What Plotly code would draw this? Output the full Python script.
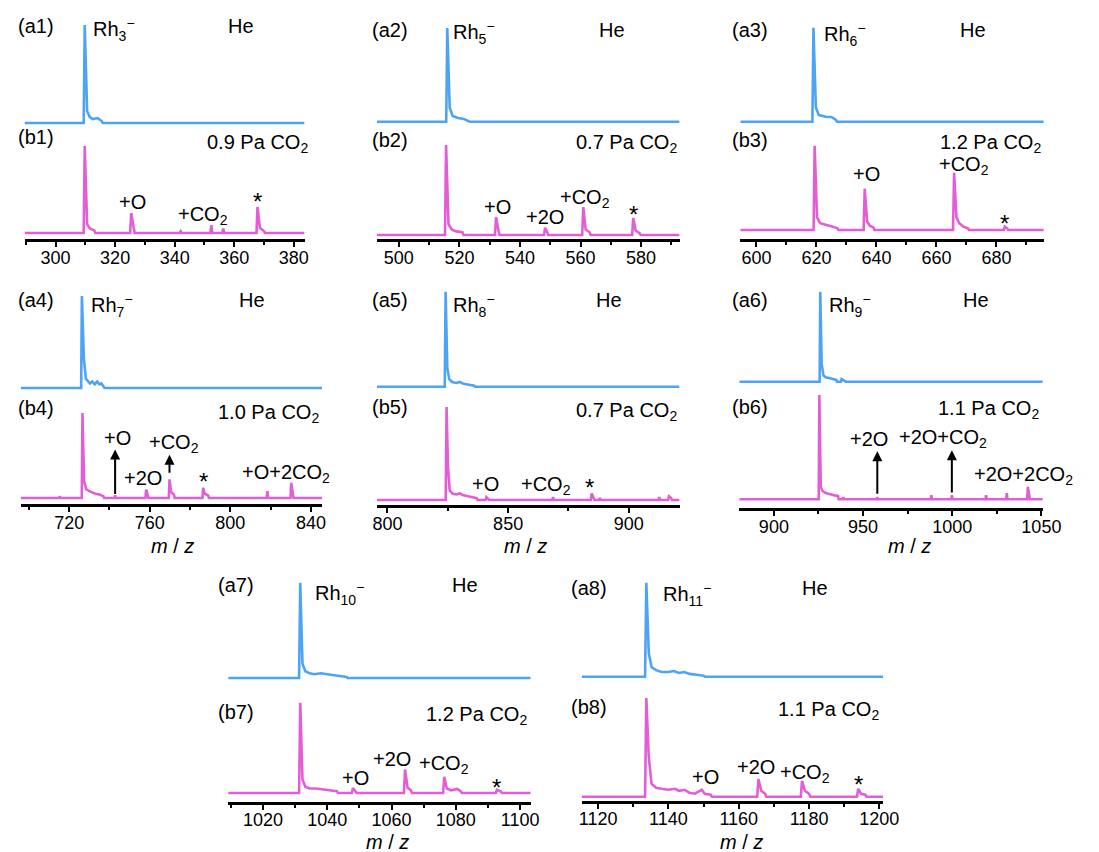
import plotly.graph_objects as go

W, H = 1099, 852
BLUE = "#4da3f4"
MAGENTA = "#e35ed6"
FONT = "Arial, Liberation Sans, sans-serif"

# ---- peak lists: m/z and relative intensity (a = He, b = CO2) ----
A1_MZ = [309.8, 310.6, 311.5, 312.5, 314.1, 315.5]
A1_I = [1.00, 0.12, 0.06, 0.04, 0.05, 0.02]
B1_MZ = [309.8, 310.6, 311.6, 313.0, 325.4, 326.2, 342.0, 352.3, 356.3, 367.8, 368.6, 370.0]
B1_I = [1.00, 0.10, 0.05, 0.03, 0.23, 0.05, 0.02, 0.09, 0.05, 0.30, 0.06, 0.02]

A2_MZ = [516.0, 516.8, 517.8, 519.5, 521.5, 523.0]
A2_I = [1.00, 0.15, 0.06, 0.04, 0.03, 0.01]
B2_MZ = [515.6, 516.4, 517.5, 519.0, 521.0, 532.1, 532.9, 548.3, 549.0, 560.9, 561.7, 563.0,
         577.4, 578.2, 579.5]
B2_I = [1.00, 0.12, 0.06, 0.04, 0.03, 0.20, 0.05, 0.08, 0.03, 0.31, 0.06, 0.03, 0.19, 0.05, 0.02]

A3_MZ = [619.0, 619.8, 620.8, 622.0, 623.5, 625.0, 626.5]
A3_I = [1.00, 0.15, 0.07, 0.06, 0.05, 0.05, 0.02]
B3_MZ = [619.4, 620.2, 621.2, 622.5, 624.0, 625.5, 627.0, 636.1, 636.9, 637.8, 639.0,
         665.9, 666.7, 667.6, 669.0, 670.5, 682.8, 683.6]
B3_I = [1.00, 0.15, 0.08, 0.07, 0.05, 0.04, 0.02, 0.49, 0.10, 0.05, 0.03,
        0.68, 0.15, 0.08, 0.04, 0.02, 0.04, 0.02]

A4_MZ = [726.3, 727.3, 728.3, 729.1, 730.3, 731.5, 732.7, 733.9, 735.0, 736.0, 737.2]
A4_I = [1.00, 0.32, 0.10, 0.08, 0.05, 0.07, 0.04, 0.07, 0.04, 0.05, 0.01]
B4_MZ = [715.3, 726.6, 727.4, 728.5, 730.0, 731.5, 733.0, 735.0, 737.0, 742.8, 758.2, 759.0,
         769.8, 770.6, 772.0, 786.5, 787.3, 789.0, 818.4, 830.2, 831.0]
B4_I = [0.02, 1.00, 0.20, 0.10, 0.08, 0.06, 0.05, 0.04, 0.02, 0.03, 0.10, 0.03,
        0.22, 0.07, 0.04, 0.12, 0.05, 0.03, 0.08, 0.18, 0.05]

A5_MZ = [824.1, 824.8, 825.6, 826.8, 828.5, 830.0, 831.5, 833.5, 836.0]
A5_I = [1.00, 0.20, 0.08, 0.05, 0.04, 0.05, 0.03, 0.02, 0.01]
B5_MZ = [824.5, 825.1, 825.8, 827.0, 828.5, 830.0, 831.5, 833.0, 835.0, 837.0, 841.0, 841.8,
         868.6, 884.6, 885.4, 888.0, 912.6, 916.6, 917.5]
B5_I = [1.00, 0.35, 0.10, 0.07, 0.06, 0.07, 0.05, 0.04, 0.03, 0.02, 0.03, 0.01,
        0.03, 0.07, 0.03, 0.02, 0.03, 0.04, 0.02]

A6_MZ = [926.0, 926.8, 927.8, 929.0, 931.0, 933.0, 935.0, 938.0, 940.0]
A6_I = [1.00, 0.20, 0.07, 0.05, 0.04, 0.03, 0.02, 0.03, 0.01]
B6_MZ = [925.5, 926.3, 927.3, 929.0, 931.0, 933.5, 936.0, 939.0, 958.0, 988.3, 999.8,
         1019.0, 1030.6, 1042.4, 1043.2]
B6_I = [1.00, 0.12, 0.08, 0.06, 0.05, 0.04, 0.03, 0.02, 0.02, 0.04, 0.04, 0.04, 0.06, 0.12, 0.03]

A7_MZ = [1031.6, 1032.3, 1033.2, 1034.5, 1036.0, 1038.0, 1040.0, 1042.0, 1044.0, 1046.0]
A7_I = [1.00, 0.15, 0.07, 0.05, 0.04, 0.05, 0.04, 0.03, 0.02, 0.01]
B7_MZ = [1031.6, 1032.3, 1033.2, 1034.5, 1036.5, 1038.5, 1041.0, 1043.0, 1048.0, 1048.8,
         1064.2, 1065.0, 1066.0, 1076.4, 1077.2, 1078.5, 1080.4, 1081.5, 1092.8, 1094.0]
B7_I = [1.00, 0.15, 0.07, 0.05, 0.05, 0.04, 0.03, 0.02, 0.055, 0.02,
        0.26, 0.06, 0.03, 0.18, 0.05, 0.03, 0.045, 0.02, 0.035, 0.015]

A8_MZ = [1133.7, 1134.4, 1135.2, 1136.5, 1138.0, 1140.0, 1141.5, 1143.0, 1144.5, 1146.0,
         1148.0, 1150.0]
A8_I = [1.00, 0.25, 0.10, 0.07, 0.05, 0.05, 0.06, 0.04, 0.05, 0.03, 0.02, 0.01]
B8_MZ = [1133.7, 1134.4, 1135.2, 1136.5, 1138.0, 1140.0, 1141.8, 1143.0, 1144.6, 1146.0,
         1147.5, 1149.5, 1150.3, 1152.0, 1165.6, 1166.4, 1167.5, 1178.0, 1178.8, 1180.0,
         1194.0, 1194.8, 1196.0]
B8_I = [1.00, 0.40, 0.13, 0.09, 0.08, 0.07, 0.08, 0.06, 0.07, 0.04, 0.03, 0.07, 0.03, 0.02,
        0.18, 0.06, 0.03, 0.16, 0.06, 0.03, 0.08, 0.03, 0.02]

# cluster sizes, pressures and x-axis ranges / tick steps
CLUSTER_N = [3, 5, 6, 7, 8, 9, 10, 11]
PRESSURE = ["0.9", "0.7", "1.2", "1.0", "0.7", "1.1", "1.2", "1.1"]
X_RANGES = [(289.6, 383.6), (492.8, 592.7), (594.6, 695.8), (695.9, 845.6),
            (795.7, 921.0), (880.6, 1050.8), (1009.2, 1103.3), (1115.3, 1201.1)]
X_DTICK = [20, 20, 20, 40, 50, 50, 20, 20]

# product-ion labels in each (b) spectrum: text, m/z, intensity
PEAK_LABELS = [
    [("+O", 325.9, 0.36), ("+CO<sub>2</sub>", 349.4, 0.20), ("*", 367.8, 0.36)],
    [("+O", 532.6, 0.31), ("+2O", 548.3, 0.20), ("+CO<sub>2</sub>", 561.5, 0.41), ("*", 577.4, 0.23)],
    [("+O", 636.7, 0.66), ("+CO<sub>2</sub>", 669.1, 0.76), ("*", 682.8, 0.08)],
    [("+O", 744.0, 0.70), ("+2O", 756.6, 0.24), ("+CO<sub>2</sub>", 772.0, 0.64), ("*", 786.5, 0.19),
     ("+O+2CO<sub>2</sub>", 827.4, 0.29)],
    [("+O", 840.7, 0.17), ("+CO<sub>2</sub>", 865.7, 0.16), ("*", 883.9, 0.13)],
    [("+2O", 953.2, 0.575), ("+2O+CO<sub>2</sub>", 994.7, 0.58), ("+2O+2CO<sub>2</sub>", 1040.2, 0.23)],
    [("+O", 1048.8, 0.165), ("+2O", 1060.2, 0.38), ("+CO<sub>2</sub>", 1076.4, 0.32), ("*", 1092.8, 0.06)],
    [("+O", 1150.4, 0.20), ("+2O", 1164.9, 0.30), ("+CO<sub>2</sub>", 1178.9, 0.24), ("*", 1194.0, 0.12)],
]
# upward arrows marking weak product peaks: panel, m/z, start, end
ARROWS = [(3, 742.8, 0.03, 0.57), (3, 769.8, 0.28, 0.51),
          (5, 958.0, 0.04, 0.46), (5, 999.8, 0.05, 0.47)]

A_MZ = [A1_MZ, A2_MZ, A3_MZ, A4_MZ, A5_MZ, A6_MZ, A7_MZ, A8_MZ]
A_I = [A1_I, A2_I, A3_I, A4_I, A5_I, A6_I, A7_I, A8_I]
B_MZ = [B1_MZ, B2_MZ, B3_MZ, B4_MZ, B5_MZ, B6_MZ, B7_MZ, B8_MZ]
B_I = [B1_I, B2_I, B3_I, B4_I, B5_I, B6_I, B7_I, B8_I]

# ---- panel geometry in pixels: left, right, axis line, a-baseline, a-top, b-baseline, b-top ----
GEOM = [
    (21, 307, 239, 123, 25, 233, 146),
    (381, 690, 239, 121.7, 28, 235, 145),
    (752, 1062, 239, 121.7, 27.7, 230, 145.7),
    (17, 325, 504, 388, 296, 498, 413),
    (381, 690, 505, 386.7, 291.7, 500, 407),
    (751, 1061, 508, 381.7, 291.7, 499.3, 395),
    (229, 538, 801.7, 678, 582.7, 793, 702.7),
    (590, 898, 800.7, 676.7, 582.7, 796.7, 698),
]
# text anchors (pixels): tag-a, ion label, "He", tag-b, pressure label (right edge)
TEXT_POS = [
    ((12, 26), (89, 27), (242, 26), (12, 137), (313, 140)),
    ((374, 30), (457, 30), (621, 30), (374, 140), (689, 140)),
    ((742, 30), (835, 32), (990, 30), (742, 140), (1061, 140)),
    ((12, 300), (87, 302), (253, 300), (12, 408), (324, 410)),
    ((374, 300), (457, 302), (618, 300), (374, 407), (689, 408)),
    ((742, 300), (841, 302), (993, 300), (742, 407), (1059, 407)),
    ((217, 585), (316, 590), (471, 585), (217, 712), (536, 712)),
    ((577, 588), (671, 591), (828, 588), (577, 707), (896, 707)),
]
MZ_TITLES = [None, None, None, (172, 546), (533, 546), (925, 546), (392, 842), (753, 842)]


def px_x(p):
    return p / W


def px_y(p):
    return 1 - p / H


def stick_line(mz, inten, lo, hi, half=0.35, link=2.6):
    """Polyline for a centroid list: narrow peaks on a zero baseline,
    neighbouring peaks (tails) joined top to top."""
    xs, ys = [lo], [0.0]
    prev = None
    for m, v in zip(mz, inten):
        if prev is not None and m - prev <= link:
            xs.append(m); ys.append(v)
        else:
            if prev is not None:
                xs.append(prev + half); ys.append(0.0)
            xs += [m - half, m]; ys += [0.0, v]
        prev = m
    if prev is not None:
        xs.append(prev + half); ys.append(0.0)
    xs.append(hi); ys.append(0.0)
    return xs, ys


fig = go.Figure()
layout = {}
annotations = []
PAD = 3
TXT = dict(family=FONT, size=20, color="black")
STAR = dict(family=FONT, size=24, color="black")

for i in range(8):
    left, right, axis_y, a_base, a_top, b_base, b_top = GEOM[i]
    xa = f"x{i + 1}"
    yb = f"y{2 * i + 1}"
    ya = f"y{2 * i + 2}"
    lo, hi = X_RANGES[i]

    bx, by = stick_line(B_MZ[i], B_I[i], lo, hi)
    ax_, ay_ = stick_line(A_MZ[i], A_I[i], lo, hi)
    fig.add_trace(go.Scatter(x=bx, y=by, xaxis=xa, yaxis=yb, mode="lines",
                             line=dict(color=MAGENTA, width=2.6), showlegend=False))
    fig.add_trace(go.Scatter(x=ax_, y=ay_, xaxis=xa, yaxis=ya, mode="lines",
                             line=dict(color=BLUE, width=2.6), showlegend=False))

    hb = b_base - b_top
    ha = a_base - a_top
    layout[f"xaxis{i + 1}"] = dict(
        domain=[px_x(left), px_x(right)], range=[lo, hi], anchor=yb,
        showline=True, linewidth=3, linecolor="black", showgrid=False, zeroline=False,
        ticks="outside", ticklen=5, tickwidth=2, tickcolor="black", tick0=0, dtick=X_DTICK[i],
        minor=dict(ticks="outside", ticklen=3, tickwidth=1.5, tickcolor="black",
                   dtick=X_DTICK[i] / 2, showgrid=False),
        tickfont=dict(family=FONT, size=18, color="black"), fixedrange=True,
        ticklabelstandoff=-5,
    )
    layout[f"yaxis{2 * i + 1}"] = dict(
        domain=[px_y(axis_y), px_y(b_top - PAD)],
        range=[-(axis_y - b_base) / hb, 1 + PAD / hb], anchor=xa, visible=False,
    )
    layout[f"yaxis{2 * i + 2}"] = dict(
        domain=[px_y(a_base + PAD), px_y(a_top - PAD)],
        range=[-PAD / ha, 1 + PAD / ha], anchor=xa, visible=False,
    )

    tag_a, ion, he, tag_b, press = TEXT_POS[i]
    annotations += [
        dict(text=f"(a{i + 1})", x=px_x(tag_a[0]), y=px_y(tag_a[1]), xanchor="left", yanchor="middle"),
        dict(text=f"Rh<sub>{CLUSTER_N[i]}</sub><sup>−</sup>", x=px_x(ion[0]), y=px_y(ion[1] + 3),
             xanchor="left", yanchor="middle"),
        dict(text="He", x=px_x(he[0]), y=px_y(he[1]), xanchor="center", yanchor="middle"),
        dict(text=f"(b{i + 1})", x=px_x(tag_b[0]), y=px_y(tag_b[1]), xanchor="left", yanchor="middle"),
        dict(text=f"{PRESSURE[i]} Pa CO<sub>2</sub>", x=px_x(press[0]), y=px_y(press[1] + 3),
             xanchor="right", yanchor="middle"),
    ]
    for a in annotations[-5:]:
        a.update(xref="paper", yref="paper", showarrow=False, font=TXT)

    for text, m, v in PEAK_LABELS[i]:
        annotations.append(dict(text=text, x=m, y=v, xref=xa, yref=yb, showarrow=False,
                                xanchor="center", yanchor="middle",
                                font=STAR if text == "*" else TXT))

    if MZ_TITLES[i] is not None:
        mx, my = MZ_TITLES[i]
        annotations.append(dict(text="<i>m</i> / <i>z</i>", x=px_x(mx), y=px_y(my),
                                xref="paper", yref="paper", showarrow=False,
                                xanchor="center", yanchor="middle", font=TXT))

for p, m, y0, y1 in ARROWS:
    xa = f"x{p + 1}"
    yb = f"y{2 * p + 1}"
    annotations.append(dict(text="", x=m, y=y1, ax=m, ay=y0, xref=xa, yref=yb,
                            axref=xa, ayref=yb, showarrow=True, arrowhead=2,
                            arrowsize=1, arrowwidth=2, arrowcolor="black"))

fig.update_layout(
    width=W, height=H, autosize=False,
    margin=dict(l=0, r=0, t=0, b=0),
    paper_bgcolor="white", plot_bgcolor="white",
    annotations=annotations, showlegend=False,
    **layout,
)

fig.write_html("out.html")
